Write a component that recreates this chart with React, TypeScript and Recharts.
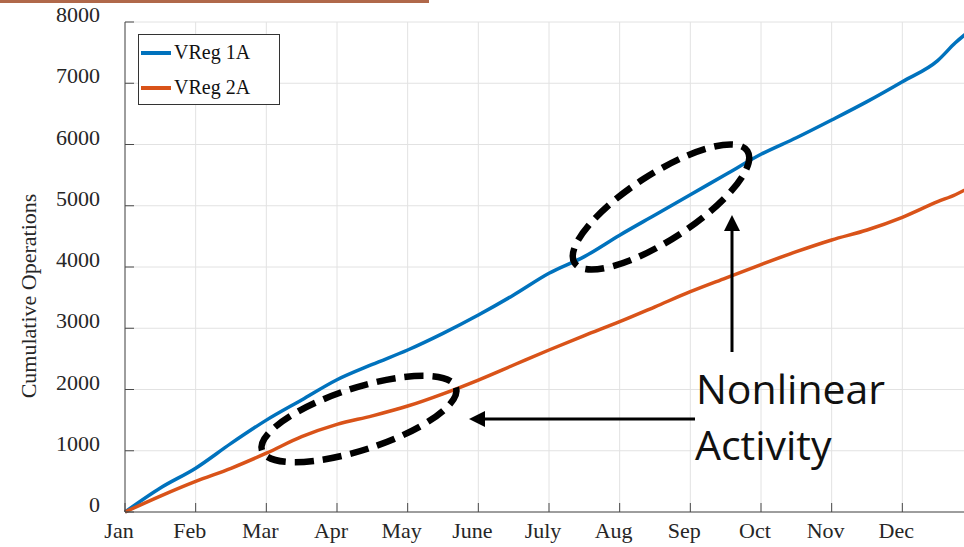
import React from "react";
import { CartesianGrid, Legend, Line, LineChart, XAxis, YAxis } from "recharts";

// months since Jan 1 (half-month steps, extra point near year end)
const monthPos = [0, 0.5, 1, 1.5, 2, 2.5, 3, 3.5, 4, 4.5, 5, 5.5, 6, 6.5, 7, 7.5, 8, 8.5, 9, 9.5, 10, 10.5, 11, 11.5, 11.75, 12];
const vreg1a = [0, 392, 715, 1120, 1500, 1830, 2160, 2410, 2645, 2917, 3216, 3543, 3897, 4170, 4520, 4850, 5180, 5510, 5840, 6110, 6400, 6700, 7025, 7370, 7660, 7900];
const vreg2a = [0, 260, 500, 713, 960, 1230, 1430, 1570, 1730, 1930, 2155, 2400, 2645, 2880, 3107, 3350, 3597, 3820, 4040, 4250, 4441, 4604, 4811, 5066, 5180, 5330];

const monthLabels = ["Jan", "Feb", "Mar", "Apr", "May", "June", "July", "Aug", "Sep", "Oct", "Nov", "Dec"];
const monthTicks = [0, 1, 2, 3, 4, 5, 6, 7, 8, 9, 10, 11];
const yTicks = [0, 1000, 2000, 3000, 4000, 5000, 6000, 7000, 8000];

const BLUE = "#0072BD";
const RED = "#D95319";
const AXIS = "#4a4a4a";
const serif = "'Liberation Serif', 'Times New Roman', serif";

const data = monthPos.map((m, i) => ({ m, a: vreg1a[i], b: vreg2a[i] }));

function BottomTick({ x, y, payload }: any) {
  return (
    <g>
      <line x1={x} x2={x} y1={y} y2={y - 9} stroke={AXIS} />
      <text x={x - 6} y={y + 26} textAnchor="middle" fontFamily={serif} fontSize={22} fill="#262626">
        {monthLabels[payload.value]}
      </text>
    </g>
  );
}

function TopTick({ x, y }: any) {
  return <line x1={x} x2={x} y1={y} y2={y + 9} stroke={AXIS} />;
}

function LeftTick({ x, y, payload }: any) {
  return (
    <g>
      <line x1={x} x2={x + 9} y1={y} y2={y} stroke={AXIS} />
      <text x={x - 25} y={y} textAnchor="end" fontFamily={serif} fontSize={22} fill="#262626">
        {payload.value}
      </text>
    </g>
  );
}

function LegendBox({ payload }: any) {
  return (
    <div style={{ width: 140, height: 69, border: "1px solid #333", background: "#fff", fontFamily: serif, fontSize: 20, color: "#111" }}>
      {(payload || []).map((p: any, i: number) => (
        <div key={i} style={{ display: "flex", alignItems: "center", height: 35 }}>
          <span style={{ display: "inline-block", width: 30, height: 4, background: p.color, marginLeft: 2, marginRight: 3 }} />
          {p.value}
        </div>
      ))}
    </div>
  );
}

function Notes() {
  const dash = { fill: "none", stroke: "#000", strokeWidth: 6.5, strokeDasharray: "19 9" };
  return (
    <svg width={964} height={547} style={{ position: "absolute", left: 0, top: 0, pointerEvents: "none" }}>
      <ellipse cx={359} cy={419} rx={102} ry={31} transform="rotate(-18 359 419)" {...dash} />
      <ellipse cx={661} cy={207} rx={103} ry={33} transform="rotate(-33 661 207)" {...dash} />
      <line x1={695} y1={419} x2={482} y2={419} stroke="#000" strokeWidth={3} />
      <polygon points="469,419 485,411 485,427" fill="#000" />
      <line x1={732} y1={352} x2={732} y2={228} stroke="#000" strokeWidth={3} />
      <polygon points="732,215 724,231 740,231" fill="#000" />
      <text x={696} y={404} fontFamily="'Open Sans', sans-serif" fontSize={41} fill="#111">Nonlinear</text>
      <text x={695} y={460} fontFamily="'Open Sans', sans-serif" fontSize={41} fill="#111">Activity</text>
    </svg>
  );
}

export default function App() {
  return (
    <div style={{ position: "absolute", left: 0, top: 0, width: 964, height: 547, overflow: "hidden", background: "#fff" }}>
      <div style={{ position: "absolute", left: 0, top: 0, width: 429, height: 3, background: "#B0684A" }} />
      <LineChart width={980} height={547} data={data} margin={{ top: 22, right: 7, left: 0, bottom: 0 }}>
        <CartesianGrid stroke="#e2e2e2" />
        <XAxis
          dataKey="m"
          type="number"
          domain={[0, 12]}
          ticks={monthTicks}
          interval={0}
          height={35}
          tickSize={0}
          tickMargin={0}
          stroke={AXIS}
          tick={<BottomTick />}
        />
        <XAxis
          xAxisId="top"
          orientation="top"
          dataKey="m"
          type="number"
          domain={[0, 12]}
          ticks={monthTicks}
          interval={0}
          height={0}
          tickSize={0}
          tickMargin={0}
          stroke={AXIS}
          tick={<TopTick />}
        />
        <YAxis
          type="number"
          domain={[0, 8000]}
          ticks={yTicks}
          interval={0}
          width={125}
          tickSize={0}
          tickMargin={0}
          stroke={AXIS}
          tick={<LeftTick />}
        />
        <Legend
          layout="vertical"
          align="center"
          verticalAlign="middle"
          content={<LegendBox />}
          wrapperStyle={{ position: "absolute", left: 138, top: 34, width: 142, height: 71 }}
        />
        <Line type="monotone" dataKey="a" name="VReg 1A" stroke={BLUE} strokeWidth={3.5} dot={false} isAnimationActive={false} />
        <Line type="monotone" dataKey="b" name="VReg 2A" stroke={RED} strokeWidth={3.5} dot={false} isAnimationActive={false} />
        <text
          x={36}
          y={296}
          transform="rotate(-90 36 296)"
          textAnchor="middle"
          fontFamily={serif}
          fontSize={22}
          fill="#262626"
        >
          Cumulative Operations
        </text>
      </LineChart>
      <Notes />
    </div>
  );
}
